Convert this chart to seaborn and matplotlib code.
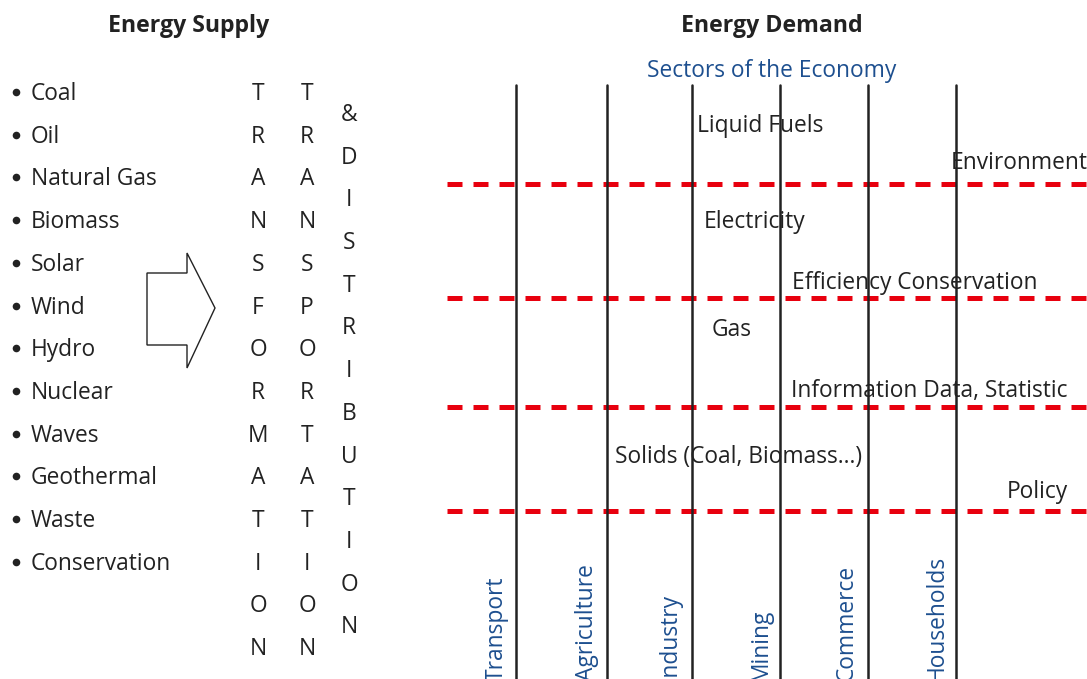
import pandas as pd
import matplotlib.pyplot as plt
from matplotlib.patches import Polygon
import seaborn as sns

# Textos do diagrama
fontes = ["Coal", "Oil", "Natural Gas", "Biomass", "Solar", "Wind", "Hydro",
          "Nuclear", "Waves", "Geothermal", "Waste", "Conservation"]
coluna_1 = list("TRANSFORMATION")
coluna_2 = list("TRANSPORTATION")
coluna_3 = list("&DISTRIBUTION")
setores = ["Transport", "Agriculture", "Industry", "Mining", "Commerce", "Households"]
combustiveis = ["Liquid Fuels", "Electricity", "Gas", "Solids (Coal, Biomass\u2026)"]
temas = ["Environment", "Efficiency Conservation", "Information Data, Statistic", "Policy"]

# Layout (coordenadas em pixels)
sns.set_theme(style="white")
plt.rcParams['font.family'] = ['Open Sans', 'DejaVu Sans']
AZUL = "#1d4f8f"
VERMELHO = "#e8000e"
CINZA = "#222222"
FS = 16.4

fig = plt.figure(figsize=(10.87, 6.79), dpi=100)
ax = fig.add_axes([0, 0, 1, 1])

# Linhas verticais dos setores
x_setores = [516, 607, 692, 780, 868, 956]
df_linhas = pd.DataFrame({
    "x": [x for x in x_setores for _ in range(2)],
    "y": [85, 679] * len(x_setores),
    "setor": [s for s in setores for _ in range(2)],
})
sns.lineplot(data=df_linhas, x="x", y="y", units="setor", estimator=None,
             sort=False, color=CINZA, linewidth=1.8, ax=ax)

# Linhas tracejadas vermelhas
y_tracos = [184, 298, 407, 511]
ax.hlines(y_tracos, 447, 1087, colors=VERMELHO, linewidth=3.6,
          linestyles=(0, (3, 2.2)), capstyle="butt", zorder=1)

# Marcadores da lista
passo = 42.7
y_fontes = [99 + i * passo for i in range(len(fontes))]
sns.scatterplot(x=[16] * len(fontes), y=[y - 7 for y in y_fontes], s=30,
                color=CINZA, linewidth=0, ax=ax)

ax.set_xlim(0, 1087)
ax.set_ylim(679, 0)
ax.axis("off")

# Títulos
ax.text(189, 32, "Energy Supply", ha="center", va="baseline", fontsize=16.7, fontweight="bold", color=CINZA)
ax.text(772, 32, "Energy Demand", ha="center", va="baseline", fontsize=16.7, fontweight="bold", color=CINZA)

# Lista de fontes de energia
for f, y in zip(fontes, y_fontes):
    ax.text(31, y + 1, f, ha="left", va="baseline", fontsize=FS, color=CINZA)

# Colunas verticais de letras
for i, c in enumerate(coluna_1):
    ax.text(258, 100 + i * passo, c, ha="center", va="baseline", fontsize=FS, color=CINZA)
for i, c in enumerate(coluna_2):
    ax.text(307, 100 + i * passo, c, ha="center", va="baseline", fontsize=FS, color=CINZA)
for i, c in enumerate(coluna_3):
    ax.text(349, 121 + i * passo, c, ha="center", va="baseline", fontsize=FS, color=CINZA)

# Seta
seta = Polygon([(147, 273), (187, 273), (187, 253), (215, 308), (187, 368),
                (187, 345), (147, 345)], closed=True, facecolor="white",
               edgecolor=CINZA, linewidth=1)
ax.add_patch(seta)

# Lado da demanda
ax.text(772, 77, "Sectors of the Economy", ha="center", va="baseline", fontsize=FS, color=AZUL)

x_comb = [697, 704, 712, 615]
y_comb = [132, 228, 336, 463]
for t, x, y in zip(combustiveis, x_comb, y_comb):
    ax.text(x, y, t, ha="left", va="baseline", fontsize=FS, color=CINZA)

x_temas = [951, 792, 791, 1007]
y_temas = [169, 289, 397, 498]
for t, x, y in zip(temas, x_temas, y_temas):
    ax.text(x, y, t, ha="left", va="baseline", fontsize=FS, color=CINZA)

x_rotulos = [497, 587, 670, 761, 847, 937]
for s, x in zip(setores, x_rotulos):
    ax.text(x, 681, s, rotation=90, ha="center", va="bottom", fontsize=FS, color=AZUL)

fig.savefig("out.png", dpi=100)
plt.close(fig)
